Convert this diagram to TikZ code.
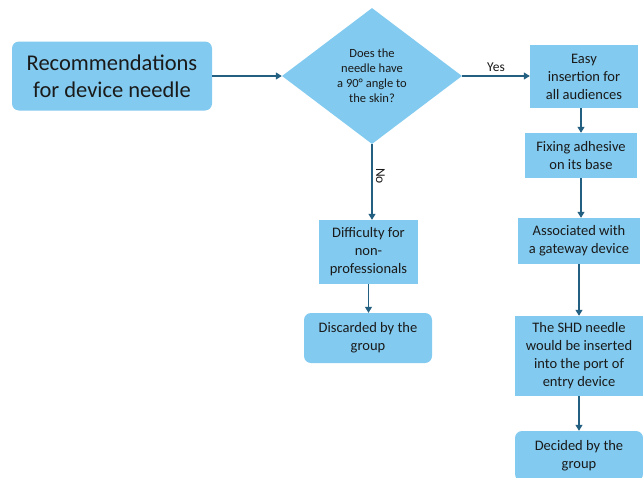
\documentclass[tikz,border=0pt]{standalone}
\usepackage{fontspec}
\setmainfont{Carlito}
\usetikzlibrary{shapes.geometric,arrows.meta}
\definecolor{boxblue}{HTML}{82CAEF}
\definecolor{linkblue}{HTML}{235F80}
\definecolor{textdark}{HTML}{1A1A1A}

\begin{document}
\begin{tikzpicture}[x=1pt,y=-1pt,
    stepbox/.style={fill=boxblue,draw=none,inner sep=0pt,align=center,
        text=textdark,font=\fontsize{14.5}{18}\selectfont},
    endbox/.style={stepbox,rounded corners=7pt},
    askbox/.style={diamond,fill=boxblue,draw=none,inner sep=0pt,align=center,
        text=textdark,font=\fontsize{12.5}{15}\selectfont},
    link/.style={draw=linkblue,line width=1.2pt,-{Triangle[width=7pt,length=6pt]}}]
    \useasboundingbox (0,0) rectangle (643,477);
    % start and question
    \node[endbox,minimum width=200pt,minimum height=69pt,
        font=\fontsize{22.5}{27}\selectfont] (start) at (112,76)
        {Recommendations\\for device needle};
    \node[askbox,minimum width=180pt,minimum height=136pt] (ask) at (372,76)
        {Does the\\needle have\\a 90\textdegree{} angle to\\the skin?};
    % yes branch
    \node[stepbox,minimum width=108pt,minimum height=63pt] (easy) at (584,76.5)
        {Easy\\insertion for\\all audiences};
    \node[stepbox,minimum width=112pt,minimum height=45pt] (fixing) at (581,155.5)
        {Fixing adhesive\\on its base};
    \node[stepbox,minimum width=122pt,minimum height=46pt] (gateway) at (579,241)
        {Associated with\\a gateway device};
    \node[stepbox,minimum width=128pt,minimum height=80pt] (shd) at (579,356)
        {The SHD needle\\would be inserted\\into the port of\\entry device};
    \node[endbox,minimum width=128pt,minimum height=50pt] (decided) at (579,456)
        {Decided by the\\group};
    % no branch
    \node[stepbox,minimum width=99pt,minimum height=64pt] (difficulty) at (368.5,252)
        {Difficulty for\\non-\\professionals};
    \node[endbox,minimum width=128pt,minimum height=50pt] (discarded) at (368,338)
        {Discarded by the\\group};
    % connectors
    \draw[link] (start) -- (ask);
    \draw[link] (ask.east) -- node[above,text=textdark,font=\fontsize{13.5}{15}\selectfont]{Yes} (easy.west |- ask.east);
    \draw[link] (easy.south -| fixing.north) -- (fixing.north);
    \draw[link] (fixing.south) -- (fixing.south |- gateway.north);
    \draw[link] (gateway) -- (shd);
    \draw[link] (shd) -- (decided);
    \draw[link] (ask.south) -- node[right,rotate=-90,anchor=south,xshift=-6pt,text=textdark,
        font=\fontsize{13.5}{15}\selectfont]{No} (ask.south |- difficulty.north);
    \draw[link] (difficulty.south) -- (difficulty.south |- discarded.north);
\end{tikzpicture}
\end{document}
